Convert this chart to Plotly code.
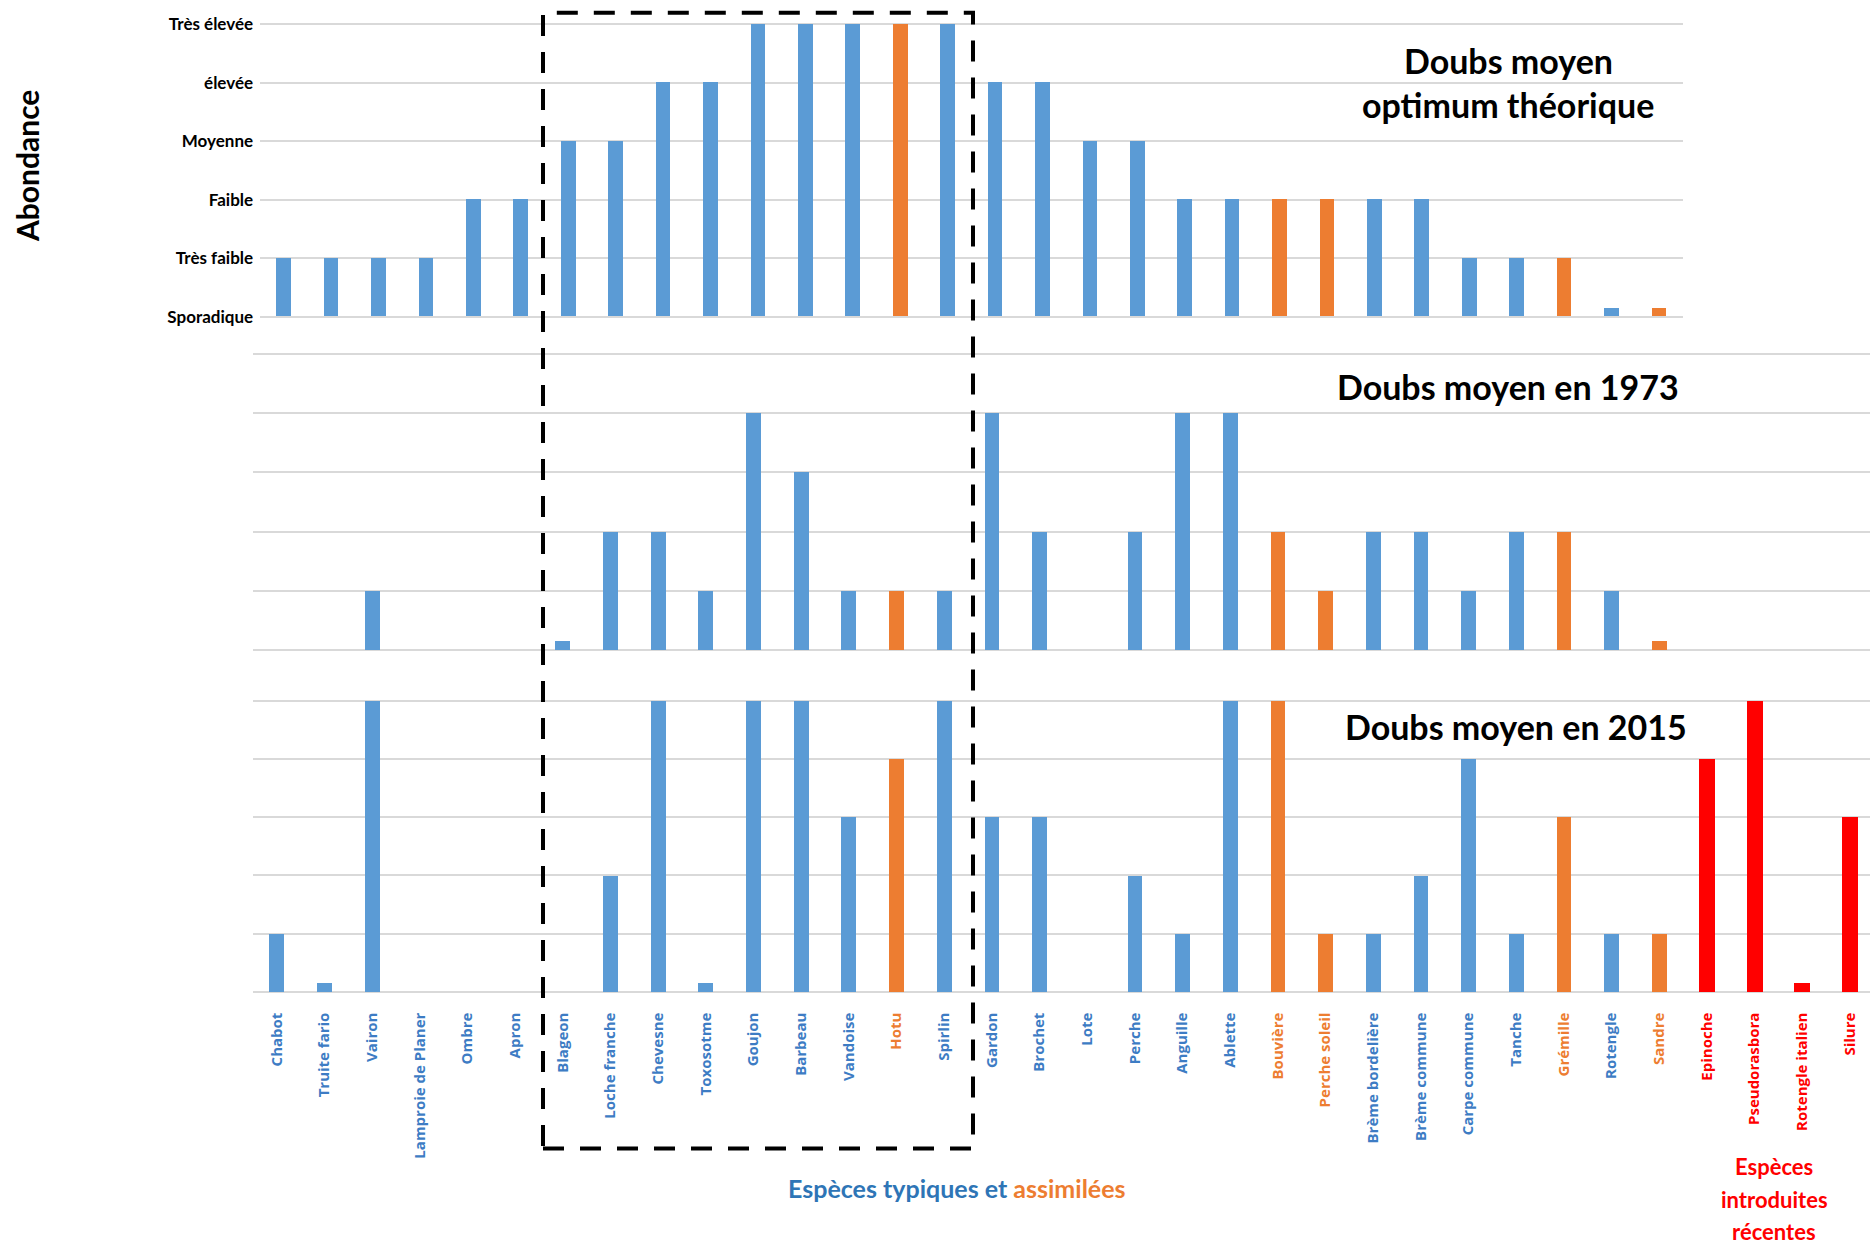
import plotly.graph_objects as go

W, H = 1870, 1248

# ---- data -------------------------------------------------------------
species = [
    "Chabot", "Truite fario", "Vairon", "Lamproie de Planer", "Ombre", "Apron",
    "Blageon", "Loche franche", "Chevesne", "Toxosotme", "Goujon", "Barbeau",
    "Vandoise", "Hotu", "Spirlin", "Gardon", "Brochet", "Lote", "Perche",
    "Anguille", "Ablette", "Bouvière", "Perche soleil", "Brème bordelière",
    "Brème commune", "Carpe commune", "Tanche", "Grémille", "Rotengle", "Sandre",
    "Epinoche", "Pseudorasbora", "Rotengle italien", "Silure",
]
# t = espèce typique, a = espèce assimilée, i = espèce introduite récente
groups = (["t"] * 13 + ["a"] + ["t"] * 7 + ["a", "a"] + ["t"] * 4
          + ["a", "t", "a"] + ["i"] * 4)

level_labels = ["Sporadique", "Très faible", "Faible", "Moyenne", "élevée", "Très élevée"]
level_values = [0, 1, 2, 3, 4, 5]

SP = 0.15      # présence sporadique (petit trait sur la ligne de base)
NA = None      # espèce absente

# Doubs moyen, optimum théorique (30 espèces typiques et assimilées)
optimum = [1, 1, 1, 1, 2, 2, 3, 3, 4, 4, 5, 5, 5, 5, 5, 4, 4, 3, 3, 2,
           2, 2, 2, 2, 2, 1, 1, 1, SP, SP]
# Doubs moyen en 1973
doubs_1973 = [NA, NA, 1, NA, NA, NA, SP, 2, 2, 1, 4, 3, 1, 1, 1, 4, 2, NA, 2, 4,
              4, 2, 1, 2, 2, 1, 2, 2, 1, SP, NA, NA, NA, NA]
# Doubs moyen en 2015
doubs_2015 = [1, SP, 5, NA, NA, NA, NA, 2, 5, SP, 5, 5, 3, 4, 5, 3, 3, NA, 2, 1,
              5, 5, 1, 1, 2, 4, 1, 3, 1, 1, 4, 5, SP, 3]

# ---- styling ------------------------------------------------------------
BAR_COL = {"t": "#5B9BD5", "a": "#ED7D31", "i": "#FF0000"}
LAB_COL = {"t": "#3D7CC4", "a": "#ED7D31", "i": "#FF0000"}
BAR_W = {"t": 0.31, "a": 0.31, "i": 0.34}
GRID = "#D9D9D9"
FONT = "Lato"


def ydomain(base_px, top_px, pad=0.05):
    u = (base_px - top_px) / 5.0
    return [1 - (base_px + pad * u) / H, 1 - (top_px - pad * u) / H]


fig = go.Figure()

panels = [
    # values, x axis left px, category step px, y base px, y top px
    (optimum, 260.1, 47.42, 316.7, 24.3),
    (doubs_1973, 252.9, 47.67, 650.0, 354.0),
    (doubs_2015, 252.9, 47.67, 991.7, 700.7),
]

for k, (vals, left, step, base, top) in enumerate(panels, start=1):
    n = len(vals)
    xs = list(range(n))
    g = groups[:n]
    fig.add_trace(go.Bar(
        x=xs, y=vals,
        marker=dict(color=[BAR_COL[c] for c in g], line=dict(width=0)),
        width=[BAR_W[c] for c in g],
        xaxis=f"x{k}" if k > 1 else "x",
        yaxis=f"y{k}" if k > 1 else "y",
        showlegend=False, hoverinfo="skip",
    ))
    right = min(W, left + n * step)
    xr = [-0.5, -0.5 + (right - left) / step]
    xa = dict(domain=[left / W, right / W], range=xr, showgrid=False,
              zeroline=False, showline=False, showticklabels=False,
              automargin=False,
              anchor=f"y{k}" if k > 1 else "y", fixedrange=True)
    ya = dict(domain=ydomain(base, top), range=[-0.05, 5.05],
              tickvals=level_values, ticktext=level_labels,
              showgrid=True, gridcolor=GRID, gridwidth=2,
              zeroline=False, showline=False, showticklabels=(k == 1),
              tickfont=dict(family=FONT, size=17, color="#000000", weight="bold"),
              ticklabelstandoff=6, automargin=False,
              anchor=f"x{k}" if k > 1 else "x", fixedrange=True)
    if k == 3:
        xa.update(showticklabels=True, tickvals=xs,
                  ticktext=[f"<span style='color:{LAB_COL[c]}'>{s}</span>"
                            for s, c in zip(species, groups)],
                  tickangle=-90, ticklabelstandoff=14,
                  tickfont=dict(family="Open Sans", size=15, weight="bold"))
    fig.update_layout({("xaxis" if k == 1 else f"xaxis{k}"): xa,
                       ("yaxis" if k == 1 else f"yaxis{k}"): ya})


def ann(text, xp, yp, size, color="#000000", angle=0, family=FONT):
    fig.add_annotation(text=text, x=xp / W, y=1 - yp / H, xref="paper", yref="paper",
                       showarrow=False, xanchor="center", yanchor="middle",
                       textangle=angle,
                       font=dict(family=family, size=size, color=color, weight="bold"))


# panel titles
ann("Doubs moyen", 1508, 60, 34)
ann("optimum théorique", 1508, 104, 34)
ann("Doubs moyen en 1973", 1508, 386, 34)
ann("Doubs moyen en 2015", 1516, 726, 34)

# axis title
ann("Abondance", 27, 166, 30, angle=-90)

# group captions
ann("<span style='color:#2E75B6'>Espèces typiques et </span>"
    "<span style='color:#ED7D31'>assimilées</span>", 957, 1188, 25)
ann("Espèces", 1774, 1166, 22, color="#FF0000")
ann("introduites", 1774, 1199, 22, color="#FF0000")
ann("récentes", 1774, 1231, 22, color="#FF0000")

# dashed frame around the core species of the middle Doubs
fig.add_shape(type="rect", xref="paper", yref="paper",
              x0=543 / W, x1=973 / W, y0=1 - 1148.5 / H, y1=1 - 12.7 / H,
              line=dict(color="#000000", width=4, dash="21px,16px"),
              fillcolor="rgba(0,0,0,0)", layer="above")

fig.update_layout(
    width=W, height=H, autosize=False,
    margin=dict(l=0, r=0, t=0, b=0, autoexpand=False),
    paper_bgcolor="#FFFFFF", plot_bgcolor="#FFFFFF",
    bargap=0, barmode="overlay",
)

fig.write_html("out.html", config={"displayModeBar": False})
